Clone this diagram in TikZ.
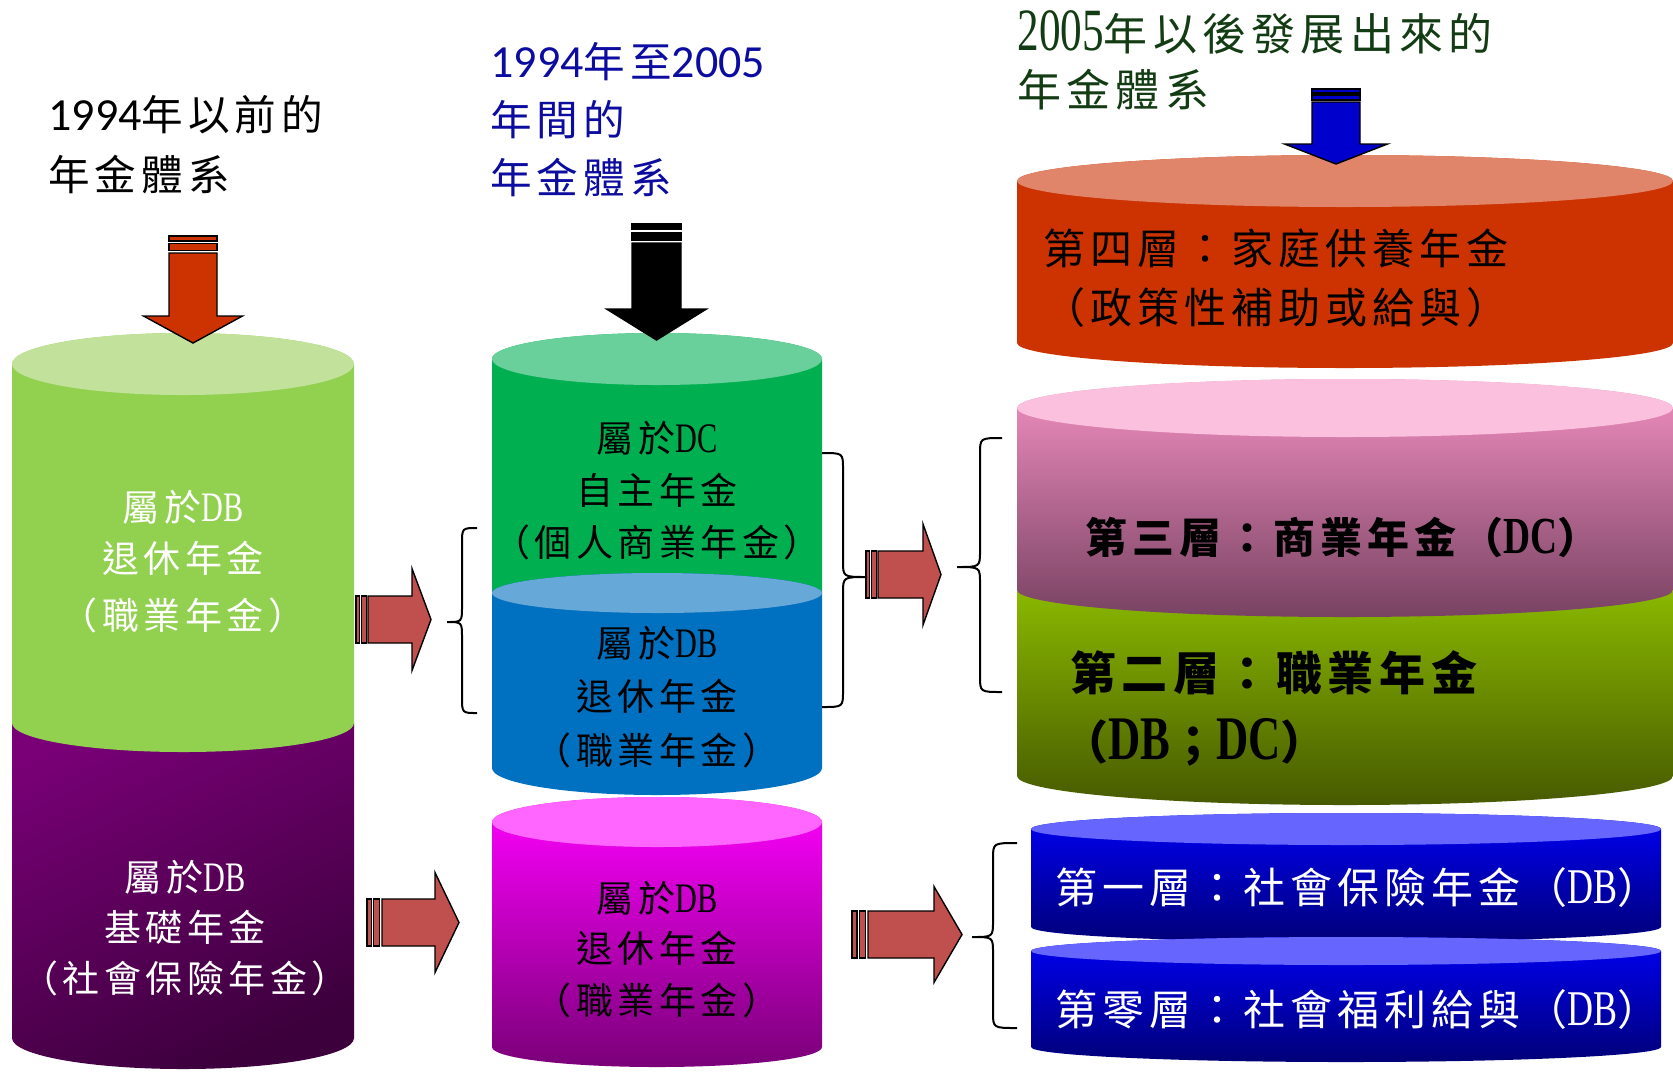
\documentclass[tikz,border=0pt]{standalone}
\usepackage{fontspec}
\setmainfont{Noto Sans CJK TC}
\newfontfamily\cjk[LetterSpace=12]{Noto Sans CJK TC}
\newfontfamily\latn[FakeStretch=0.72]{Liberation Serif}
\newfontfamily\calib{Carlito}
\newcommand\fsz[1]{\fontsize{#1}{#1}\selectfont}
\newcommand\lt[2]{{\latn\fontsize{#1}{#1}\selectfont #2}}
\definecolor{lgreen}{HTML}{92D050}
\definecolor{lgreentop}{HTML}{C2E29C}
\definecolor{purpA}{HTML}{7A0078}
\definecolor{purpB}{HTML}{3C003C}
\definecolor{dgreen}{HTML}{00B050}
\definecolor{dgreentop}{HTML}{69D09B}
\definecolor{mblue}{HTML}{0070C0}
\definecolor{mbluetop}{HTML}{66A8D8}
\definecolor{magA}{HTML}{FF00FF}
\definecolor{magB}{HTML}{7A0078}
\definecolor{magtop}{HTML}{FF66FF}
\definecolor{redc}{HTML}{CC3300}
\definecolor{redtop}{HTML}{E0856A}
\definecolor{pinkA}{HTML}{F390C2}
\definecolor{pinkB}{HTML}{784262}
\definecolor{pinktop}{HTML}{FAC0DD}
\definecolor{olA}{HTML}{92C400}
\definecolor{olB}{HTML}{475A00}
\definecolor{bluA}{HTML}{0000F5}
\definecolor{bluB}{HTML}{000078}
\definecolor{blutop}{HTML}{6666FF}
\definecolor{arrred}{HTML}{C0504D}
\definecolor{darrred}{HTML}{CC3300}
\definecolor{darrblue}{HTML}{0000CC}
\definecolor{ttblue}{HTML}{0C0CA0}
\definecolor{ttgreen}{HTML}{143C14}
% cylinder body: #1 style, #2 cx, #3 ytop, #4 ybot, #5 rx, #6 ry top, #7 ry bottom
\newcommand\cylbody[7]{%
  \path[#1] ({#2-#5},{-#3}) -- ({#2-#5},{-#4})
    arc[start angle=180,end angle=360,x radius=#5,y radius=#7]
    -- ({#2+#5},{-#3})
    arc[start angle=0,end angle=180,x radius=#5,y radius=#6] -- cycle;}
\newcommand\cyltop[5]{%
  \path[#1] (#2,-#3) ellipse[x radius=#4,y radius=#5];}
% right striped arrow: #1 fill, #2 xs, #3 xb, #4 xh, #5 xt, #6 yc, #7 half shaft, #8 half head
\newcommand\rarr[8]{%
  \pgfmathsetmacro\arrLen{#3-#2}%
  \draw[arrowline,fill=#1] (#2,{-(#6-#7)}) rectangle ({#2+0.3*\arrLen},{-(#6+#7)});
  \draw[arrowline,fill=#1] ({#2+0.45*\arrLen},{-(#6-#7)}) rectangle ({#2+0.85*\arrLen},{-(#6+#7)});
  \draw[arrowline,fill=#1] (#3,{-(#6-#7)}) -- (#4,{-(#6-#7)}) -- (#4,{-(#6-#8)}) -- (#5,{-#6})
    -- (#4,{-(#6+#8)}) -- (#4,{-(#6+#7)}) -- (#3,{-(#6+#7)}) -- cycle;}
% down striped arrow: #1 fill, #2 ys, #3 yb, #4 yh, #5 yt, #6 xc, #7 half shaft, #8 half head
\newcommand\darr[8]{%
  \pgfmathsetmacro\arrLen{#3-#2}%
  \draw[arrowline,fill=#1] ({#6-#7},{-#2}) rectangle ({#6+#7},{-(#2+0.3*\arrLen)});
  \draw[arrowline,fill=#1] ({#6-#7},{-(#2+0.45*\arrLen)}) rectangle ({#6+#7},{-(#2+0.85*\arrLen)});
  \draw[arrowline,fill=#1] ({#6-#7},{-#3}) -- ({#6-#7},{-#4}) -- ({#6-#8},{-#4}) -- (#6,{-#5})
    -- ({#6+#8},{-#4}) -- ({#6+#7},{-#4}) -- ({#6+#7},{-#3}) -- cycle;}
% brace: #1 xtip, #2 xv, #3 xend, #4 ytop, #5 ymid, #6 ybot
\newcommand\mybrace[6]{%
  \draw[bracestyle] (#3,-#4) .. controls (#2,-#4) .. (#2,{-(#4+16)}) -- (#2,{-(#5-16)})
    .. controls (#2,-#5) .. (#1,-#5) .. controls (#2,-#5) .. (#2,{-(#5+16)})
    -- (#2,{-(#6-16)}) .. controls (#2,-#6) .. (#3,-#6);}
\begin{document}
\begin{tikzpicture}[x=0.5pt,y=0.5pt,
  arrowline/.style={draw=black,line width=0.7pt,line join=miter},
  bracestyle/.style={draw=black,line width=1pt},
  ctxt/.style={inner sep=0pt,font=\cjk\fsz{18.5pt}},
  rtxt/.style={inner sep=0pt,anchor=west,font=\cjk\fsz{21pt}},
  ttl/.style={inner sep=0pt,anchor=west,font=\cjk\fsz{20.8pt}}]
\useasboundingbox (0,0) rectangle (1673,-1077);
\fill[white] (0,0) rectangle (1673,-1077);
% ---- left cylinder
\cylbody{top color=purpA,bottom color=purpB,shading angle=25}{183}{723}{1038}{171}{29}{31}
\cylbody{fill=lgreen}{183}{364}{723}{171}{31}{29}
\cyltop{fill=lgreentop}{183}{364}{171}{31}
% ---- middle cylinders
\cylbody{fill=dgreen}{657}{359}{593}{165}{26}{20}
\cyltop{fill=dgreentop}{657}{359}{165}{26}
\cylbody{fill=mblue}{657}{593}{768}{165}{20}{27}
\cyltop{fill=mbluetop}{657}{593}{165}{20}
\cylbody{top color=magA,bottom color=magB}{657}{822}{1047}{165}{25}{20}
\cyltop{fill=magtop}{657}{822}{165}{25}
% ---- right cylinders
\cylbody{fill=redc}{1345}{181}{343}{328}{26}{25}
\cyltop{fill=redtop}{1345}{181}{328}{26}
\cylbody{top color=olA,bottom color=olB}{1345}{590}{776}{328}{27}{29}
\cylbody{top color=pinkA,bottom color=pinkB}{1345}{408}{590}{328}{29}{27}
\cyltop{fill=pinktop}{1345}{408}{328}{29}
\cylbody{top color=bluA,bottom color=bluB}{1346}{829}{927}{315}{16}{15}
\cyltop{fill=blutop}{1346}{829}{315}{16}
\cylbody{top color=bluA,bottom color=bluB}{1346}{951}{1047}{315}{14}{15}
\cyltop{fill=blutop}{1346}{951}{315}{14}
% ---- titles
\node[ttl] (ta1) at (48,-115) {{\calib\fsz{23pt}1994}年以前的};
\node[ttl] (ta2) at (48,-175) {年金體系};
\node[ttl,text=ttblue] (tb1) at (490,-62) {{\calib\fsz{23pt}1994}年至{\calib\fsz{23pt}2005}};
\node[ttl,text=ttblue] (tb2) at (490,-120) {年間的};
\node[ttl,text=ttblue] (tb3) at (490,-178) {年金體系};
\node[ttl,text=ttgreen,font=\cjk\fsz{22pt}] (tc1) at (1017,-32) {\lt{30pt}{2005}年以後發展出來的};
\node[ttl,text=ttgreen,font=\cjk\fsz{22pt}] (tc2) at (1017,-90) {年金體系};
% ---- cylinder texts
\node[ctxt,text=white] (g1) at (183,-507) {屬於\lt{21pt}{DB}};
\node[ctxt,text=white] (g2) at (183,-558) {退休年金};
\node[ctxt,text=white] (g3) at (183,-615) {（職業年金）};
\node[ctxt,text=white] (p1) at (185,-877) {屬於\lt{21pt}{DB}};
\node[ctxt,text=white] (p2) at (185,-927) {基礎年金};
\node[ctxt,text=white] (p3) at (185,-978) {（社會保險年金）};
\node[ctxt] (m1) at (657,-438) {屬於\lt{21pt}{DC}};
\node[ctxt] (m2) at (657,-490) {自主年金};
\node[ctxt] (m3) at (657,-542) {（個人商業年金）};
\node[ctxt] (b1) at (657,-643) {屬於\lt{21pt}{DB}};
\node[ctxt] (b2) at (657,-696) {退休年金};
\node[ctxt] (b3) at (657,-750) {（職業年金）};
\node[ctxt] (k1) at (657,-898) {屬於\lt{21pt}{DB}};
\node[ctxt] (k2) at (657,-948) {退休年金};
\node[ctxt] (k3) at (657,-1000) {（職業年金）};
\node[rtxt] (r4a) at (1043,-248) {第四層：家庭供養年金};
\node[rtxt] (r4b) at (1043,-308) {（政策性補助或給與）};
\node[rtxt,font=\cjk\bfseries\fsz{21pt}] (r3) at (1085,-537) {第三層：商業年金（\lt{26pt}{DC}）};
\node[rtxt,font=\cjk\bfseries\fsz{23pt}] (r2a) at (1070,-673) {第二層：職業年金};
\node[rtxt,font=\cjk\bfseries\fsz{23pt}] (r2b) at (1062,-742) {（\lt{31pt}{DB}；\lt{31pt}{DC}）};
\node[rtxt,text=white] (r1) at (1055,-888) {第一層：社會保險年金（\lt{25pt}{DB}）};
\node[rtxt,text=white] (r0) at (1055,-1010) {第零層：社會福利給與（\lt{25pt}{DB}）};
% ---- arrows
\darr{darrred}{236}{253}{316}{343}{193}{24}{49.5}
\darr{black}{224}{243}{309}{340}{656.5}{24.5}{50}
\darr{darrblue}{89}{102}{144}{164}{1336}{24}{51.5}
\rarr{arrred}{356}{368}{412}{431}{619.5}{23.5}{51}
\rarr{arrred}{367}{382}{435}{459}{922.5}{23.5}{50}
\rarr{arrred}{866}{878}{923}{941}{574.5}{23.5}{50.5}
\rarr{arrred}{852}{868}{934}{962}{934.5}{23.5}{48}
% ---- braces
\mybrace{447}{462}{477}{528}{622}{713}
\mybrace{867}{843}{822}{453}{577}{707}
\mybrace{957}{980}{1002}{438}{567}{692}
\mybrace{972}{993}{1017}{843}{937}{1028}
\end{tikzpicture}
\end{document}
